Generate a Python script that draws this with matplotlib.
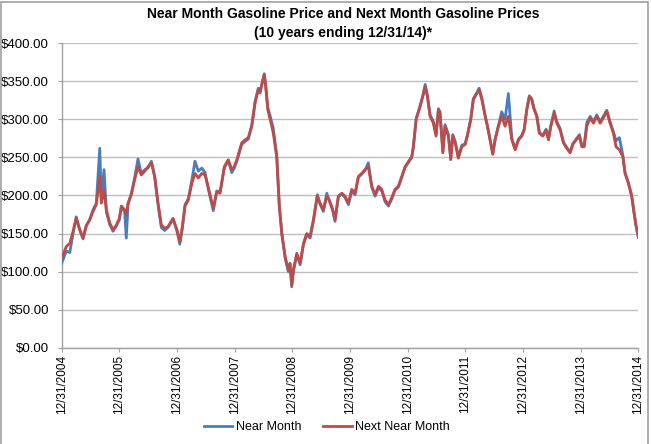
import pandas as pd
import matplotlib
matplotlib.use('Agg')
import matplotlib.pyplot as plt
import matplotlib.dates as mdates
from matplotlib.ticker import FuncFormatter, MultipleLocator

# values ($ per 100 gallons, roughly every 3 weeks)
dates = [
    '2004-12-31', '2005-01-29', '2005-02-20', '2005-03-13', '2005-04-02', '2005-04-24',
    '2005-05-15', '2005-06-05', '2005-06-26', '2005-07-17', '2005-08-07', '2005-08-29',
    '2005-09-08', '2005-09-25', '2005-10-10', '2005-10-31', '2005-11-21', '2005-12-12',
    '2005-12-31', '2006-01-13', '2006-02-03', '2006-02-13', '2006-02-24', '2006-03-17',
    '2006-04-07', '2006-04-28', '2006-05-19', '2006-06-10', '2006-07-01', '2006-07-22',
    '2006-08-12', '2006-09-02', '2006-09-23', '2006-10-14', '2006-11-04', '2006-12-06',
    '2006-12-31', '2007-01-18', '2007-02-03', '2007-02-20', '2007-03-13', '2007-04-04',
    '2007-04-24', '2007-05-15', '2007-06-06', '2007-06-27', '2007-07-18', '2007-08-18',
    '2007-09-09', '2007-09-30', '2007-10-27', '2007-11-21', '2007-12-13', '2007-12-29',
    '2008-01-14', '2008-02-14', '2008-03-06', '2008-03-27', '2008-04-18', '2008-05-09',
    '2008-05-29', '2008-06-09', '2008-06-24', '2008-07-06', '2008-07-15', '2008-07-28',
    '2008-08-18', '2008-09-01', '2008-09-23', '2008-10-09', '2008-10-25', '2008-11-15',
    '2008-12-05', '2008-12-16', '2008-12-27', '2009-01-06', '2009-01-28', '2009-02-18',
    '2009-03-11', '2009-04-01', '2009-04-22', '2009-05-13', '2009-06-07', '2009-06-24',
    '2009-07-15', '2009-08-06', '2009-08-22', '2009-09-13', '2009-09-27', '2009-10-18',
    '2009-11-09', '2009-11-30', '2009-12-21', '2010-01-11', '2010-02-01', '2010-02-22',
    '2010-03-15', '2010-04-05', '2010-04-26', '2010-05-18', '2010-06-08', '2010-06-29',
    '2010-07-20', '2010-08-10', '2010-08-31', '2010-09-21', '2010-10-12', '2010-11-02',
    '2010-11-24', '2010-12-15', '2011-01-26', '2011-02-05', '2011-02-23', '2011-03-20',
    '2011-04-06', '2011-04-21', '2011-05-05', '2011-05-22', '2011-06-12', '2011-06-29',
    '2011-07-14', '2011-07-24', '2011-08-11', '2011-08-25', '2011-09-15', '2011-09-30',
    '2011-10-13', '2011-10-28', '2011-11-17', '2011-12-09', '2011-12-30', '2012-01-13',
    '2012-02-04', '2012-02-20', '2012-03-13', '2012-03-28', '2012-04-14', '2012-05-05',
    '2012-05-19', '2012-06-05', '2012-06-22', '2012-07-07', '2012-07-28', '2012-08-18',
    '2012-09-08', '2012-09-29', '2012-10-21', '2012-11-11', '2012-12-02', '2012-12-23',
    '2013-01-07', '2013-01-24', '2013-02-09', '2013-02-24', '2013-03-11', '2013-03-28',
    '2013-04-13', '2013-05-05', '2013-05-26', '2013-06-10', '2013-06-25', '2013-07-16',
    '2013-08-02', '2013-08-23', '2013-09-13', '2013-10-04', '2013-10-25', '2013-11-11',
    '2013-12-02', '2013-12-23', '2014-01-07', '2014-01-22', '2014-02-08', '2014-03-01',
    '2014-03-22', '2014-04-12', '2014-05-03', '2014-05-24', '2014-06-14', '2014-07-05',
    '2014-07-26', '2014-08-12', '2014-09-02', '2014-09-24', '2014-10-08', '2014-10-29',
    '2014-11-19', '2014-12-04', '2014-12-17', '2014-12-31',
]

near_month = [
    111, 127, 125, 150, 172, 155, 143, 160, 168, 181, 190, 262,
    195, 234, 178, 162, 153, 160, 168, 186, 178, 144, 188, 203,
    223, 248, 229, 234, 236, 245, 224, 188, 158, 154, 158, 169,
    153, 136, 157, 188, 196, 220, 245, 232, 236, 230, 208, 180,
    206, 205, 236, 246, 230, 236, 245, 267, 271, 274, 293, 324,
    341, 336, 350, 360, 345, 316, 300, 288, 253, 188, 150, 118,
    100, 109, 80, 100, 122, 109, 135, 149, 144, 166, 201, 189,
    179, 203, 193, 180, 166, 198, 202, 197, 188, 206, 201, 224,
    228, 233, 243, 211, 199, 210, 206, 192, 186, 195, 207, 211,
    224, 237, 250, 263, 301, 318, 331, 346, 332, 306, 297, 280,
    314, 310, 258, 293, 280, 249, 280, 271, 251, 266, 268, 279,
    301, 327, 335, 341, 328, 305, 292, 274, 255, 274, 292, 310,
    300, 334, 275, 261, 274, 279, 287, 314, 331, 327, 314, 305,
    283, 279, 287, 274, 292, 311, 297, 288, 270, 263, 257, 268,
    274, 280, 266, 266, 296, 304, 297, 306, 297, 304, 312, 297,
    284, 272, 276, 253, 230, 217, 200, 178, 160, 145,
]

next_near_month = [
    118, 133, 137, 153, 170, 155, 144, 161, 168, 179, 188, 225,
    190, 207, 181, 164, 155, 161, 170, 186, 181, 175, 190, 201,
    221, 238, 227, 232, 238, 243, 225, 190, 161, 157, 159, 170,
    155, 139, 159, 186, 194, 216, 229, 223, 229, 227, 210, 183,
    205, 203, 238, 247, 234, 238, 247, 269, 273, 276, 291, 322,
    339, 335, 348, 359, 343, 313, 295, 282, 250, 186, 150, 120,
    102, 111, 82, 102, 124, 111, 137, 150, 146, 168, 199, 190,
    181, 199, 194, 181, 168, 199, 203, 199, 190, 208, 203, 225,
    229, 234, 238, 212, 201, 212, 208, 194, 188, 197, 208, 212,
    225, 238, 251, 264, 300, 317, 330, 343, 330, 304, 295, 278,
    313, 308, 256, 291, 278, 247, 278, 269, 249, 264, 267, 278,
    300, 326, 334, 339, 326, 304, 291, 273, 254, 273, 291, 304,
    291, 304, 273, 260, 273, 278, 286, 313, 330, 326, 313, 304,
    282, 278, 286, 273, 291, 308, 295, 286, 269, 262, 256, 267,
    273, 278, 264, 264, 291, 302, 295, 304, 295, 302, 311, 295,
    282, 264, 260, 251, 229, 216, 199, 177, 159, 146,
]

tick_years = list(range(2004, 2015))

plt.rcParams['font.family'] = ['Liberation Sans', 'DejaVu Sans']

x = pd.to_datetime(dates)

fig = plt.figure(figsize=(6.51, 4.44), dpi=100)
ax = fig.add_axes([0.0948, 0.2169, 0.8857, 0.6856])

ax.plot(x, near_month, color='#4A7EBB', lw=2.0, label='Near Month', zorder=3)
ax.plot(x, next_near_month, color='#BE4B48', lw=2.0, label='Next Near Month', zorder=4)

ax.set_ylim(0, 400)
ax.yaxis.set_major_locator(MultipleLocator(50))
ax.yaxis.set_major_formatter(FuncFormatter(lambda v, p: '${:,.2f}'.format(v)))
ax.grid(axis='y', color='#BFBFBF', lw=1.0)
ax.set_axisbelow(True)

ticks = [pd.Timestamp(f'{y}-12-31') for y in tick_years]
ax.set_xlim(ticks[0], ticks[-1])
ax.set_xticks(ticks)
ax.xaxis.set_major_formatter(mdates.DateFormatter('%m/%d/%Y'))
plt.setp(ax.get_xticklabels(), rotation=90, fontsize=8.5, color='black')

ax.tick_params(axis='y', labelsize=9.5, length=3.2, color='#A0A0A0', pad=6)
ax.tick_params(axis='x', length=3, color='#A0A0A0', pad=2)

for side in ['top', 'right']:
    ax.spines[side].set_visible(False)
for side in ['left', 'bottom']:
    ax.spines[side].set_color('#A0A0A0')
    ax.spines[side].set_linewidth(1.0)

fig.text(0.527, 0.984, 'Near Month Gasoline Price and Next Month Gasoline Prices\n'
         '(10 years ending 12/31/14)*', ha='center', va='top',
         fontsize=10, fontweight='bold', linespacing=1.4)

fig.legend(loc='center', bbox_to_anchor=(0.502, 0.038), ncol=2, frameon=False,
           fontsize=9, handlelength=2.3, handletextpad=0.3, columnspacing=1.7)

# thin grey chart border like the spreadsheet export
border = plt.Rectangle((0.002, -0.01), 0.994, 1.006, transform=fig.transFigure,
                       fill=False, edgecolor='#A0A0A0', lw=1.2)
fig.patches.append(border)

fig.savefig('out.png', dpi=100)
